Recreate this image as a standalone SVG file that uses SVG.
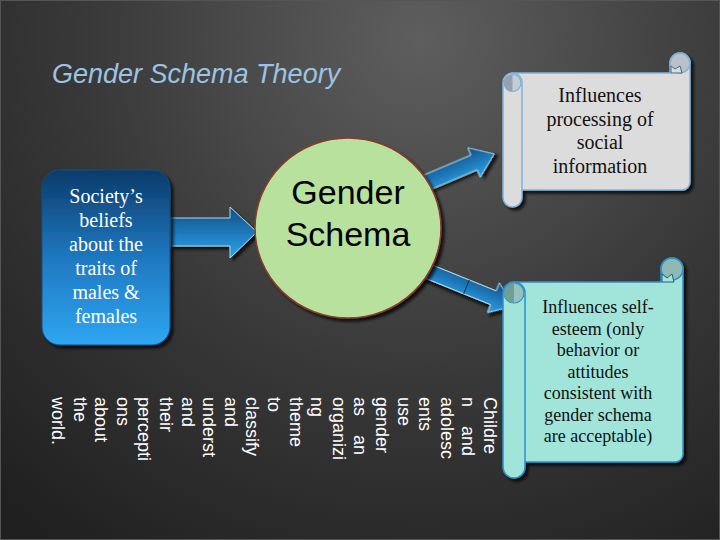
<svg xmlns="http://www.w3.org/2000/svg" width="720" height="540" viewBox="0 0 720 540">
<defs>
<radialGradient id="bg" cx="420" cy="40" r="620" gradientUnits="userSpaceOnUse">
<stop offset="0" stop-color="#5e5e5e"/>
<stop offset="0.55" stop-color="#383838"/>
<stop offset="1" stop-color="#202020"/>
</radialGradient>
<linearGradient id="boxg" x1="0" y1="0" x2="0" y2="1">
<stop offset="0" stop-color="#0b3b6b"/>
<stop offset="0.5" stop-color="#1f78c0"/>
<stop offset="1" stop-color="#2fa6f2"/>
</linearGradient>
<linearGradient id="arrg" x1="0" y1="0" x2="0" y2="1">
<stop offset="0" stop-color="#134d86"/>
<stop offset="1" stop-color="#2aa4ec"/>
</linearGradient>
<filter id="sh" x="-20%" y="-20%" width="140%" height="140%">
<feDropShadow dx="3" dy="3" stdDeviation="1.5" flood-color="#000" flood-opacity="0.75"/>
</filter>
<style>
.title{font-family:"Liberation Sans",Arial,sans-serif;font-style:italic;font-size:27px;fill:#9cc3e3}
.ser{font-family:"Liberation Serif","Times New Roman",serif;text-anchor:middle}
.wt{fill:#ffffff;font-size:20px}
.bk{fill:#111111}
.circ{font-family:"Liberation Sans",Arial,sans-serif;font-size:34px;fill:#000;text-anchor:middle}
.vt{font-family:"Liberation Sans",Arial,sans-serif;font-size:18px;fill:#ffffff}
.arr{fill:url(#arrg);stroke:#a8dcec;stroke-width:1}
.s1{fill:#dcdcdc;stroke:#7fb2dc;stroke-width:1.5}
.s2{fill:#a0e4da;stroke:#2f8fcb;stroke-width:1.5}
</style>
</defs>
<rect x="0" y="0" width="720" height="540" fill="url(#bg)"/>
<rect x="0.5" y="0.5" width="719" height="539" fill="none" stroke="#555555" stroke-width="1"/>
<text class="title" x="52" y="83">Gender Schema Theory</text>

<g id="connectors">
<path class="arr" filter="url(#sh)" d="M170 218 H230 V207 L257 232 L230 258 V246 H170 Z"/>
<g transform="translate(428,182) rotate(-23)">
<path class="arr" filter="url(#sh)" d="M-8 -8 H50 V-16 L72 0 L50 16 V8 H-8 Z"/>
</g>
<g transform="translate(428.5,271.5) rotate(22)">
<path class="arr" filter="url(#sh)" d="M-8 -7.5 H70 V-16 L92 0 L70 16 V7.5 H-8 Z"/>
<line x1="41" y1="-7.5" x2="41" y2="7.5" stroke="#0d3358" stroke-width="1"/>
</g>
</g>

<g id="society">
<rect x="42" y="170" width="128" height="175" rx="18" fill="url(#boxg)" stroke="#0f4f86" stroke-width="1" filter="url(#sh)"/>
<text class="ser wt" x="106" y="203">Society’s</text>
<text class="ser wt" x="106" y="227">beliefs</text>
<text class="ser wt" x="106" y="251">about the</text>
<text class="ser wt" x="106" y="275">traits of</text>
<text class="ser wt" x="106" y="299">males &amp;</text>
<text class="ser wt" x="106" y="323">females</text>
</g>

<g id="schema">
<ellipse cx="348" cy="228" rx="93" ry="90" fill="#b7e19d" stroke="#8a3a2c" stroke-width="1.5" filter="url(#sh)"/>
<text class="circ" x="348" y="204">Gender</text>
<text class="circ" x="348" y="246">Schema</text>
</g>

<g id="processing" filter="url(#sh)">
<path class="s1" d="M512 73 H670 V63 A10 10 0 0 1 690 63 V182 A8 8 0 0 1 682 190 H512 Z"/>
<circle cx="680" cy="63" r="10" fill="#b9c0c6" stroke="#7fb2dc" stroke-width="1.5"/>
<path d="M671 73 V66 L675 69 L680 66 L682 73 Z" fill="#dcdcdc" stroke="#4a6a86" stroke-width="1"/>
<rect class="s1" x="503" y="73" width="19" height="134" rx="9.5"/>
<circle cx="512.5" cy="83" r="8.5" fill="#c5ccd2" stroke="#7fb2dc" stroke-width="1.2"/>
<path d="M512.5 74.5 A8.5 8.5 0 0 0 512.5 91.5 Z" fill="#95a2ae"/>
</g>
<g id="processing-text">
<text class="ser bk" x="600" y="102" font-size="20">Influences</text>
<text class="ser bk" x="600" y="125.5" font-size="20">processing of</text>
<text class="ser bk" x="600" y="149" font-size="20">social</text>
<text class="ser bk" x="600" y="172.5" font-size="20">information</text>
</g>

<g id="selfesteem" filter="url(#sh)">
<path class="s2" d="M514 282 H661 V269 A11 11 0 0 1 683 269 V454 A8 8 0 0 1 675 462 H514 Z"/>
<circle cx="672" cy="269" r="11" fill="#8fbab4" stroke="#2f8fcb" stroke-width="1.5"/>
<path d="M662 282 V274 L667 278 L672 274 L674 282 Z" fill="#a0e4da" stroke="#1f5f80" stroke-width="1"/>
<rect class="s2" x="503" y="282" width="22" height="196" rx="11"/>
<circle cx="514" cy="293" r="10" fill="#95c2bb" stroke="#2f8fcb" stroke-width="1.2"/>
<path d="M514 283 A10 10 0 0 0 514 303 Z" fill="#6f9e98"/>
</g>
<g id="selfesteem-text">
<text class="ser bk" x="598" y="313" font-size="18">Influences self-</text>
<text class="ser bk" x="598" y="334.5" font-size="18">esteem (only</text>
<text class="ser bk" x="598" y="356" font-size="18">behavior or</text>
<text class="ser bk" x="598" y="377.5" font-size="18">attitudes</text>
<text class="ser bk" x="598" y="399" font-size="18">consistent with</text>
<text class="ser bk" x="598" y="420.5" font-size="18">gender schema</text>
<text class="ser bk" x="598" y="442" font-size="18">are acceptable)</text>
</g>

<g id="vertical-text">
<text class="vt" transform="translate(484,397) rotate(90)">Childre</text>
<text class="vt" transform="translate(462.4,397) rotate(90)">n<tspan x="29">and</tspan></text>
<text class="vt" transform="translate(440.8,397) rotate(90)">adolesc</text>
<text class="vt" transform="translate(419.2,397) rotate(90)">ents</text>
<text class="vt" transform="translate(397.6,397) rotate(90)">use</text>
<text class="vt" transform="translate(376,397) rotate(90)">gender</text>
<text class="vt" transform="translate(354.4,397) rotate(90)">as<tspan x="38">an</tspan></text>
<text class="vt" transform="translate(332.8,397) rotate(90)">organizi</text>
<text class="vt" transform="translate(311.2,397) rotate(90)">ng</text>
<text class="vt" transform="translate(289.6,397) rotate(90)">theme</text>
<text class="vt" transform="translate(268,397) rotate(90)">to</text>
<text class="vt" transform="translate(246.4,397) rotate(90)">classify</text>
<text class="vt" transform="translate(224.8,397) rotate(90)">and</text>
<text class="vt" transform="translate(203.2,397) rotate(90)">underst</text>
<text class="vt" transform="translate(181.6,397) rotate(90)">and</text>
<text class="vt" transform="translate(160,397) rotate(90)">their</text>
<text class="vt" transform="translate(138.4,397) rotate(90)">percepti</text>
<text class="vt" transform="translate(116.8,397) rotate(90)">ons</text>
<text class="vt" transform="translate(95.2,397) rotate(90)">about</text>
<text class="vt" transform="translate(73.6,397) rotate(90)">the</text>
<text class="vt" transform="translate(52,397) rotate(90)">world.</text>
</g>
</svg>
